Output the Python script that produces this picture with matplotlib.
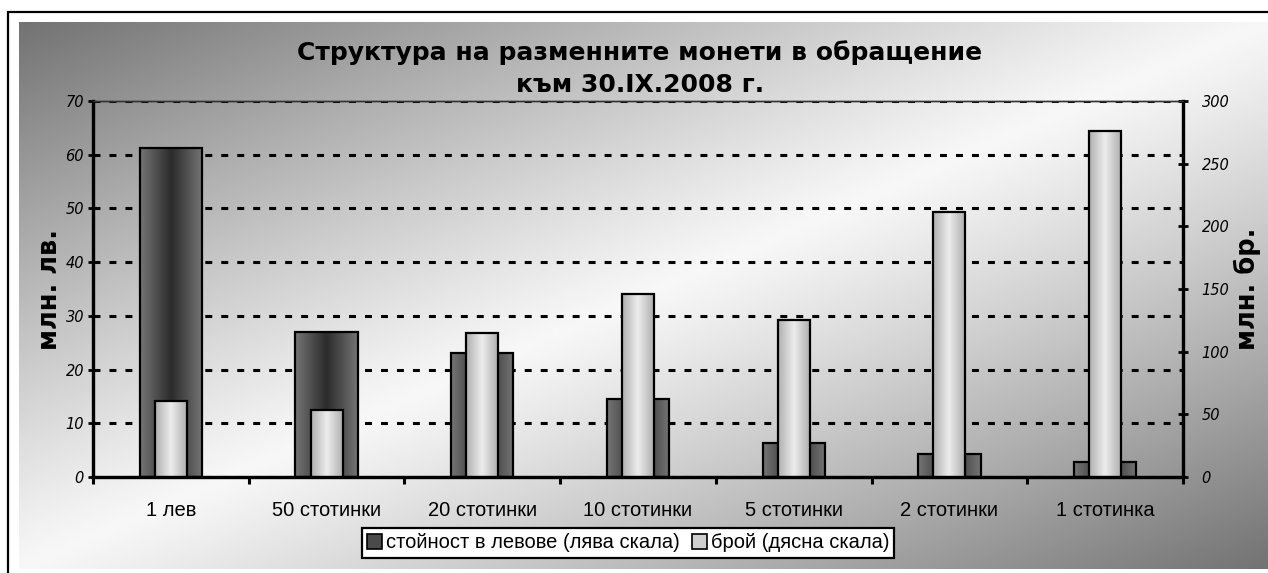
import numpy as np
import matplotlib
matplotlib.use("Agg")
import matplotlib.pyplot as plt
from matplotlib.colors import LinearSegmentedColormap
from matplotlib.patches import Rectangle, Patch

categories = ['1 лев', '50 стотинки', '20 стотинки', '10 стотинки',
              '5 стотинки', '2 стотинки', '1 стотинка']
value_mln_lv = [61.2, 27.0, 23.0, 14.6, 6.3, 4.2, 2.7]      # left scale
count_mln = [60.5, 53.5, 114.5, 146.0, 125.5, 211.5, 276.0]  # right scale
left_ticks = [0, 10, 20, 30, 40, 50, 60, 70]
right_ticks = [0, 50, 100, 150, 200, 250, 300]

title = 'Структура на разменните монети в обращение\nкъм 30.IX.2008 г.'
label_left = 'млн. лв.'
label_right = 'млн. бр.'
legend_labels = ['стойност в левове (лява скала)', 'брой (дясна скала)']

W, H = 1268, 573
plt.rcParams['lines.scale_dashes'] = False

fig = plt.figure(figsize=(W / 100, H / 100), dpi=100)
fig.patch.set_facecolor('white')

# outer frame and gradient background
fig.add_artist(Rectangle((8 / W, -0.1), 1.2, 1.1 - 12 / H, transform=fig.transFigure,
                         fill=False, lw=1.6, ec='black', zorder=-20))
bg = fig.add_axes([19 / W, 1 - 569 / H, (W - 19) / W, (569 - 22) / H], zorder=-10)
gx, gy = np.meshgrid(np.linspace(0, 1, 400), np.linspace(0, 1, 200))
t = np.abs((gx + gy) / 2 - 0.5) * 2
bg.imshow(0.97 - 0.52 * t ** 1.1, cmap='gray', vmin=0, vmax=1, aspect='auto',
          interpolation='bilinear')
bg.axis('off')

ax1 = fig.add_axes([93 / W, 1 - 477 / H, (1183 - 93) / W, (477 - 101) / H])
ax1.patch.set_alpha(0)
ax2 = ax1.twinx()

x = np.arange(len(categories))


def shade(ax, bars, edge, mid):
    g = np.abs(np.linspace(-1, 1, 64))[None, :]
    cmap = LinearSegmentedColormap.from_list('bar', [mid, edge])
    for b in bars:
        x0, w, h = b.get_x(), b.get_width(), b.get_height()
        im = ax.imshow(g, cmap=cmap, extent=[x0, x0 + w, 0, h], aspect='auto',
                       interpolation='bilinear', zorder=2)
        im.set_clip_path(b)
        b.set_facecolor('none')
        b.set_zorder(3)


bars1 = ax1.bar(x, value_mln_lv, width=0.4, edgecolor='black', linewidth=1.6)
shade(ax1, bars1, '#747474', '#2c2c2c')
bars2 = ax2.bar(x, count_mln, width=0.205, edgecolor='black', linewidth=1.6)
shade(ax2, bars2, '#b0b0b0', '#ebebeb')

ax1.set_xlim(-0.5, len(categories) - 0.5)
ax1.set_ylim(0, 70)
ax2.set_ylim(0, 300)
ax1.set_yticks(left_ticks)
ax2.set_yticks(right_ticks)

ax1.set_axisbelow(True)
ax1.grid(axis='y', color='black', lw=2.2, linestyle=(0, (5, 6.5)))

ax1.set_xticks(x, categories, fontsize=14.5, family='Liberation Sans')
ax1.set_xticks(np.arange(-0.5, len(categories), 1), minor=True)
ax1.tick_params(axis='x', which='major', length=0, pad=17)
ax1.tick_params(axis='x', which='minor', length=5, width=2.2, direction='out')
ax1.tick_params(axis='y', length=3.5, width=2, direction='out', pad=3)
ax2.tick_params(axis='y', length=7, width=2, direction='inout', pad=10)
for lab in ax1.get_yticklabels() + ax2.get_yticklabels():
    lab.set_fontstyle('italic')
    lab.set_fontsize(10.5)

for ax in (ax1, ax2):
    for side in ('left', 'right', 'bottom'):
        ax.spines[side].set_linewidth(2.3)
    ax.spines['top'].set_linewidth(1.0)
    ax.spines['top'].set_color('#333333')

ax1.set_ylabel(label_left, fontsize=18.5, fontweight='bold', labelpad=2)
ax2.set_ylabel(label_right, fontsize=18.5, fontweight='bold', rotation=90, labelpad=3)

fig.text(640 / W, 1 - 69 / H, title, ha='center', va='center', fontsize=18,
         fontweight='bold', linespacing=1.42)

handles = [Patch(facecolor='#4a4a4a', edgecolor='black', lw=1.2),
           Patch(facecolor='#cfcfcf', edgecolor='black', lw=1.2)]
leg = fig.legend(handles, legend_labels, loc='center', ncol=2,
                 bbox_to_anchor=(628 / W, 1 - 543 / H),
                 prop={'family': 'Liberation Sans', 'size': 14.5},
                 frameon=True, fancybox=False, framealpha=1, edgecolor='black',
                 handlelength=0.75, handleheight=0.75, handletextpad=0.2,
                 columnspacing=0.6, borderpad=0.25, borderaxespad=0)
leg.get_frame().set_linewidth(1.6)

fig.savefig('out.png', dpi=100)
